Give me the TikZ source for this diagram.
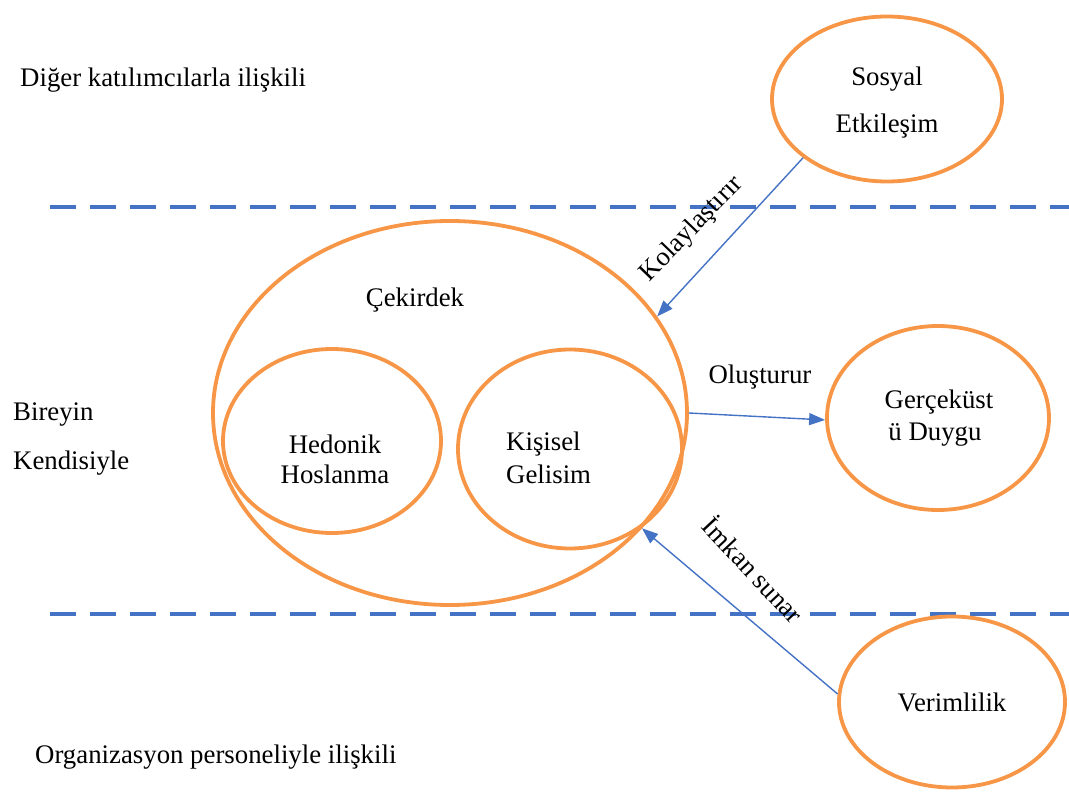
\documentclass[tikz,border=0pt]{standalone}
\usepackage{fontspec}
\setmainfont{Liberation Serif}
\usetikzlibrary{shapes.geometric,arrows.meta}
\definecolor{orng}{HTML}{F79646}
\definecolor{blu}{HTML}{4472C4}
\tikzset{
  oval/.style={draw=orng,line width=3.8pt,ellipse,inner sep=0pt},
  divider/.style={draw=blu,line width=4pt,dash pattern=on 26pt off 14pt},
  conn/.style={draw=blu,line width=1.4pt,-{Triangle[length=16pt,width=12pt]}},
  txt/.style={font=\fontsize{26.8}{30}\selectfont,inner sep=0pt}
}
\begin{document}
\begin{tikzpicture}[x=1pt,y=-1pt]
\useasboundingbox (0,0) rectangle (1069,794);
% dividers
\coordinate (d1a) at (50,207); \coordinate (d1b) at (1069,207);
\coordinate (d2a) at (50,614); \coordinate (d2b) at (1069,614);
\draw[divider] (d1a) -- (d1b);
\draw[divider] (d2a) -- (d2b);
% ellipses
\node[oval,minimum width=474pt,minimum height=384pt] (big) at (450,413) {};
\node[oval,minimum width=218pt,minimum height=184pt] (hed) at (332,441) {};
\node[oval,minimum width=224pt,minimum height=199pt] (kis) at (570,449) {};
\node[oval,minimum width=230pt,minimum height=165pt] (sos) at (887,99) {};
\node[oval,minimum width=222pt,minimum height=184pt] (ger) at (938,418) {};
\node[oval,minimum width=226pt,minimum height=171pt] (ver) at (952,702) {};
% texts
\node[txt,anchor=west] (t1) at (20,80) {Diğer katılımcılarla ilişkili};
\node[txt,anchor=west] (t2) at (13,415) {Bireyin};
\node[txt,anchor=west] (t3) at (13,463) {Kendisiyle};
\node[txt,anchor=west] (t4) at (35,757) {Organizasyon personeliyle ilişkili};
\node[txt] (s1) at (887,79) {Sosyal};
\node[txt] (s2) at (887,126) {Etkileşim};
\node[txt] (c1) at (415,300) {Çekirdek};
\node[txt] (h1) at (335,444) {Hedonik};
\node[txt] (h2) at (335,474) {Hoslanma};
\node[txt,anchor=west] (k1) at (506,444) {Kişisel};
\node[txt,anchor=west] (k2) at (506,474) {Gelisim};
\node[txt] (g1) at (939,402) {Gerçeküst};
\node[txt] (g2) at (935,435) {ü Duygu};
\node[txt] (v1) at (952,702) {Verimlilik};
% connectors
\draw[conn] (sos.215) -- (big.25.5);
\draw[conn] (big.east) -- (ger.181.5);
\draw[conn] (ver.176) -- (big.-31);
% connector labels
\node[txt,rotate=46] (l1) at (692,229) {Kolaylaştırır};
\node[txt] (l2) at (760,377) {Oluşturur};
\node[txt,rotate=-47] (l3) at (754,569) {İmkan sunar};
\end{tikzpicture}
\end{document}
